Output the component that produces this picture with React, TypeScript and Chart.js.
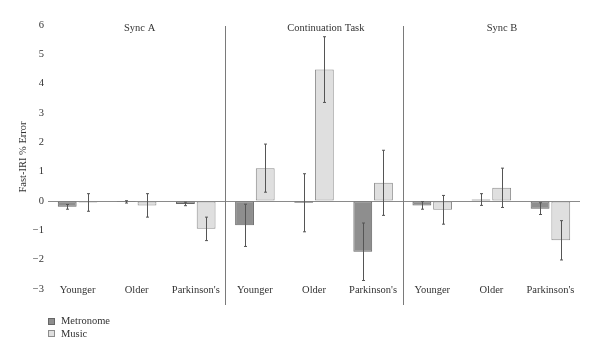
import React, { useEffect, useRef } from 'react';
import { Chart, registerables } from 'chart.js';

Chart.register(...registerables);

// ---- data ----
const panels = ['Sync A', 'Continuation Task', 'Sync B'];
const categories = ['Younger', 'Older', "Parkinson's", 'Younger', 'Older', "Parkinson's", 'Younger', 'Older', "Parkinson's"];
const metronome = [-0.2, -0.03, -0.1, -0.83, -0.06, -1.73, -0.15, 0.05, -0.26];
const metronomeErr = [0.08, 0.04, 0.06, 0.72, 0.99, 0.98, 0.13, 0.2, 0.2];
const music = [-0.05, -0.15, -0.95, 1.12, 4.48, 0.62, -0.3, 0.45, -1.34];
const musicErr = [0.3, 0.4, 0.4, 0.82, 1.12, 1.11, 0.49, 0.67, 0.67];
const seriesNames = ['Metronome', 'Music'];
const yMin = -3;
const yMax = 6;

const FONT = "'Liberation Serif', 'DejaVu Serif', serif";
const TEXT = '#333333';
const fills = ['#8e8e8e', '#dfdfdf'];
const borders = ['#666666', '#8c8c8c'];
const errs = [metronomeErr, musicErr];

const decorPlugin = {
  id: 'decor',
  afterDatasetsDraw(chart: any) {
    const ctx = chart.ctx;
    const xs = chart.scales.x;
    const ys = chart.scales.y;
    const area = chart.chartArea;
    ctx.save();
    // error bars
    ctx.strokeStyle = '#555555';
    ctx.lineWidth = 1;
    chart.data.datasets.forEach((ds: any, i: number) => {
      const meta = chart.getDatasetMeta(i);
      meta.data.forEach((el: any, j: number) => {
        const v = ds.data[j];
        const e = errs[i][j];
        const x = Math.round(el.x) + 0.5;
        const y1 = ys.getPixelForValue(v + e);
        const y2 = ys.getPixelForValue(v - e);
        ctx.beginPath();
        ctx.moveTo(x, y1);
        ctx.lineTo(x, y2);
        ctx.moveTo(x - 1.5, y1);
        ctx.lineTo(x + 1.5, y1);
        ctx.moveTo(x - 1.5, y2);
        ctx.lineTo(x + 1.5, y2);
        ctx.stroke();
      });
    });
    // panel separators
    ctx.strokeStyle = '#7a7a7a';
    [2, 5].forEach((k) => {
      const x = Math.round((xs.getPixelForValue(k) + xs.getPixelForValue(k + 1)) / 2) + 0.5;
      ctx.beginPath();
      ctx.moveTo(x, area.top + 1);
      ctx.lineTo(x, ys.getPixelForValue(yMin) + 16);
      ctx.stroke();
    });
    // panel titles
    ctx.fillStyle = TEXT;
    ctx.font = `10.5px ${FONT}`;
    ctx.textAlign = 'center';
    ctx.textBaseline = 'middle';
    const offs = [0.05, 0.2, 0.18];
    panels.forEach((p, i) => {
      const c = i * 3 + 1;
      const w = xs.getPixelForValue(c + 1) - xs.getPixelForValue(c);
      ctx.fillText(p, xs.getPixelForValue(c) + offs[i] * w, area.top + 3);
    });
    // legend
    ctx.textAlign = 'left';
    ctx.font = `10.5px ${FONT}`;
    seriesNames.forEach((n, i) => {
      const y = ys.getPixelForValue(yMin) + 32.5 + i * 12.3;
      ctx.fillStyle = fills[i];
      ctx.fillRect(area.left + 0.5, Math.round(y) - 3.5, 6, 6);
      ctx.strokeStyle = borders[i];
      ctx.strokeRect(area.left + 0.5, Math.round(y) - 3.5, 6, 6);
      ctx.fillStyle = TEXT;
      ctx.fillText(n, area.left + 13, y);
    });
    ctx.restore();
  },
};

export default function App() {
  const ref = useRef<HTMLCanvasElement | null>(null);
  useEffect(() => {
    if (!ref.current) return;
    const chart = new Chart(ref.current, {
      type: 'bar',
      data: {
        labels: categories,
        datasets: [
          {
            label: seriesNames[0],
            data: metronome,
            backgroundColor: fills[0],
            borderColor: borders[0],
            borderWidth: 1,
            borderSkipped: false,
            categoryPercentage: 0.7,
            barPercentage: 0.91,
          },
          {
            label: seriesNames[1],
            data: music,
            backgroundColor: fills[1],
            borderColor: borders[1],
            borderWidth: 1,
            borderSkipped: false,
            categoryPercentage: 0.7,
            barPercentage: 0.91,
          },
        ],
      },
      options: {
        animation: false,
        responsive: false,
        maintainAspectRatio: false,
        layout: { padding: { left: 0, right: 20, top: 25, bottom: 70 } },
        plugins: { legend: { display: false }, tooltip: { enabled: false } },
        scales: {
          x: {
            position: { y: yMin } as any,
            grid: { display: false },
            border: { display: false },
            ticks: {
              color: TEXT,
              font: { family: FONT, size: 10.5 },
              padding: -13,
              maxRotation: 0,
              autoSkip: false,
            },
          },
          y: {
            min: yMin,
            max: yMax,
            afterFit: (s: any) => {
              s.width = 48;
            },
            ticks: {
              stepSize: 1,
              color: TEXT,
              padding: 4,
              font: { family: FONT, size: 10.5 },
              callback: (v: any) => (Number(v) < 0 ? '\u2212' + Math.abs(Number(v)) : String(v)),
            },
            grid: {
              drawTicks: false,
              color: (c: any) => (c.tick && c.tick.value === 0 ? '#8a8a8a' : 'rgba(0,0,0,0)'),
            },
            border: { display: false },
            title: {
              display: true,
              text: 'Fast-IRI % Error',
              color: TEXT,
              font: { family: FONT, size: 10.5 },
              padding: { top: 17, bottom: 0 },
            },
          },
        },
      },
      plugins: [decorPlugin],
    });
    return () => chart.destroy();
  }, []);
  return (
    <div style={{ position: 'fixed', left: 0, top: 0, width: 600, height: 359, background: '#fff' }}>
      <canvas ref={ref} width={600} height={359} style={{ width: 600, height: 359 }} />
    </div>
  );
}
